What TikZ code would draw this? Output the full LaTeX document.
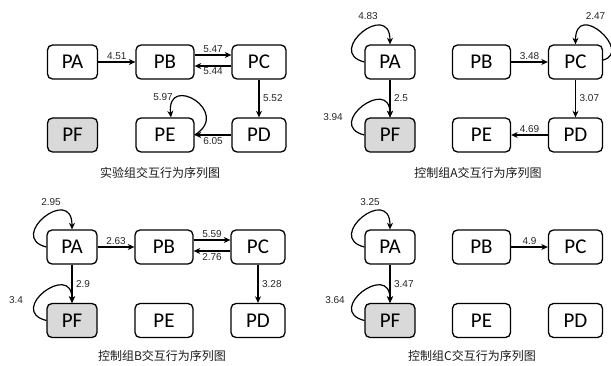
\documentclass[tikz,border=0pt]{standalone}
\usepackage{fontspec}
\newfontfamily\boxfont{Carlito}
\newfontfamily\numfont{Liberation Sans}
\newfontfamily\cjkfont{Noto Sans CJK SC}
\usetikzlibrary{arrows.meta}
\tikzset{
  box/.style={draw, line width=1.3pt, rounded corners=5pt, minimum height=34pt, inner sep=0pt, font=\boxfont\fontsize{21}{21}\selectfont},
  boxa/.style={box, minimum width=50pt},
  boxb/.style={box, minimum width=58pt},
  boxc/.style={box, minimum width=54pt},
  shaded/.style={fill=black!15},
  num/.style={font=\numfont\fontsize{10}{12}\selectfont, text=black!85, inner sep=1.5pt},
  arr/.style={line width=1.2pt, -{Stealth[length=6.5pt,width=6pt,inset=2pt]}},
  capt/.style={font=\cjkfont\fontsize{12}{14}\selectfont, text=black!90}
}
\begin{document}
\begin{tikzpicture}[x=1pt,y=-1pt]
    \useasboundingbox (0,0) rectangle (611,366);

    % experiment group
    \node[boxa] (PA1) at (72.5,62) {PA};
    \node[boxb] (PB1) at (165,62) {PB};
    \node[boxc] (PC1) at (259,62) {PC};
    \node[boxa,shaded] (PF1) at (72.5,135) {PF};
    \node[boxb] (PE1) at (165,135) {PE};
    \node[boxc] (PD1) at (259,135) {PD};
    \draw[arr] (PA1) -- node[num,above] {4.51} (PB1);
    \draw[arr] ([yshift=7]PB1.east) -- node[num,above] {5.47} ([yshift=7]PC1.west);
    \draw[arr] ([yshift=-4]PC1.west) -- node[num,below] {5.44} ([yshift=-4]PB1.east);
    \draw[arr] (PC1) -- node[num,right=2pt] {5.52} (PD1);
    \draw[arr] (PD1) -- node[num,below] {6.05} (PE1);
    \draw[arr] (PE1.east) .. controls +(38,-23) and +(-5,-45) .. ([xshift=6]PE1.north);
    \node[num] (n597) at ([shift={(-2,-20)}]PE1.north) {5.97};
    \node[capt] (cap1) at (160,173) {实验组交互行为序列图};

    % control group A
    \node[boxa] (PA2) at (390,62) {PA};
    \node[boxb] (PB2) at (481.5,62) {PB};
    \node[boxc] (PC2) at (575.5,62) {PC};
    \node[boxa,shaded] (PF2) at (390,135) {PF};
    \node[boxb] (PE2) at (481.5,135) {PE};
    \node[boxc] (PD2) at (575.5,135) {PD};
    \draw[arr] (PA2.west) .. controls +(-40,-10) and +(0,-45) .. (PA2.north);
    \node[num] (n483) at ([shift={(-22,-28)}]PA2.north) {4.83};
    \draw[arr] (PA2) -- node[num,right=2pt] {2.5} (PF2);
    \draw[arr] (PF2.west) .. controls +(-40,-10) and +(0,-42) .. (PF2.north);
    \node[num] (n394) at ([shift={(-57,0)}]PF2.north) {3.94};
    \draw[arr] (PB2) -- node[num,above] {3.48} (PC2);
    \draw[arr] ([yshift=2]PC2.east) .. controls +(30,-8) and +(0,-45) .. (PC2.north);
    \node[num] (n247) at ([shift={(20,-28)}]PC2.north) {2.47};
    \draw[arr] (PC2) -- node[num,right=2pt] {3.07} (PD2);
    \draw[arr] (PD2) -- node[num,above] {4.69} (PE2);
    \node[capt] (cap2) at (478,173) {控制组A交互行为序列图};

    % control group B
    \node[boxa] (PA3) at (72,247) {PA};
    \node[boxb] (PB3) at (164,247) {PB};
    \node[boxc] (PC3) at (258,247) {PC};
    \node[boxa,shaded] (PF3) at (72,320.5) {PF};
    \node[boxb] (PE3) at (164,320.5) {PE};
    \node[boxc] (PD3) at (258,320.5) {PD};
    \draw[arr] (PA3.west) .. controls +(-40,-10) and +(0,-45) .. (PA3.north);
    \node[num] (n295) at ([shift={(-21,-27)}]PA3.north) {2.95};
    \draw[arr] (PA3) -- node[num,right=2pt] {2.9} (PF3);
    \draw[arr] (PF3.west) .. controls +(-40,-10) and +(0,-42) .. (PF3.north);
    \node[num] (n34) at ([shift={(-56,-3)}]PF3.north) {3.4};
    \draw[arr] (PA3) -- node[num,above] {2.63} (PB3);
    \draw[arr] ([yshift=7]PB3.east) -- node[num,above] {5.59} ([yshift=7]PC3.west);
    \draw[arr] ([yshift=-4]PC3.west) -- node[num,below] {2.76} ([yshift=-4]PB3.east);
    \draw[arr] (PC3) -- node[num,right=2pt] {3.28} (PD3);
    \node[capt] (cap3) at (162,356) {控制组B交互行为序列图};

    % control group C
    \node[boxa] (PA4) at (390,247) {PA};
    \node[boxb] (PB4) at (481.5,247) {PB};
    \node[boxc] (PC4) at (575.5,247) {PC};
    \node[boxa,shaded] (PF4) at (390,320.5) {PF};
    \node[boxb] (PE4) at (481.5,320.5) {PE};
    \node[boxc] (PD4) at (575.5,320.5) {PD};
    \draw[arr] (PA4.west) .. controls +(-40,-10) and +(0,-45) .. (PA4.north);
    \node[num] (n325) at ([shift={(-20,-27)}]PA4.north) {3.25};
    \draw[arr] (PA4) -- node[num,right=2pt] {3.47} (PF4);
    \draw[arr] (PF4.west) .. controls +(-40,-10) and +(0,-42) .. (PF4.north);
    \node[num] (n364) at ([shift={(-55,-3)}]PF4.north) {3.64};
    \draw[arr] (PB4) -- node[num,above] {4.9} (PC4);
    \node[capt] (cap4) at (472,356) {控制组C交互行为序列图};
\end{tikzpicture}
\end{document}
